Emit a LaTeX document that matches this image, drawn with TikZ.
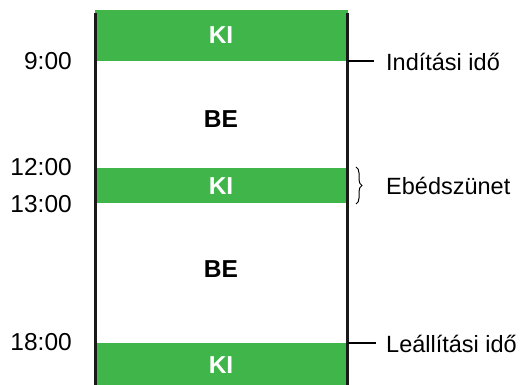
\documentclass[tikz,border=0pt]{standalone}
\usepackage{fontspec}
\setmainfont{Liberation Sans}
\definecolor{kigreen}{HTML}{40B54A}
\usetikzlibrary{decorations.pathreplacing}
\begin{document}
\begin{tikzpicture}[x=1pt,y=-1pt,
  band/.style={fill=kigreen,draw=none},
  bandtext/.style={text=white,font=\fontsize{24.5}{28}\selectfont\bfseries},
  betext/.style={text=black,font=\fontsize{24.5}{28}\selectfont\bfseries},
  timetext/.style={anchor=east,font=\fontsize{24.5}{28}\selectfont,inner sep=0pt},
  labeltext/.style={anchor=west,font=\fontsize{23.5}{28}\selectfont,inner sep=0pt},
  rail/.style={line width=3pt,black!90},
  tick/.style={line width=1.5pt,black}]
\useasboundingbox (0,0) rectangle (520,385);
\fill[white] (0,0) rectangle (520,385);
% bands
\path[band] (95,10) rectangle (348,61);
\path[band] (95,168) rectangle (348,203);
\path[band] (95,343) rectangle (348,385);
% rails
\coordinate (lt) at (95,13);
\coordinate (lb) at (95,385);
\coordinate (rt) at (347,13);
\coordinate (rb) at (347,385);
\draw[rail] (lt) -- (lb);
\draw[rail] (rt) -- (rb);
% band texts
\node[bandtext] (ki1) at (221,35) {KI};
\node[betext] (be1) at (221,119) {BE};
\node[bandtext] (ki2) at (221,186) {KI};
\node[betext] (be2) at (221,269) {BE};
\node[bandtext] (ki3) at (221,365) {KI};
% times
\node[timetext] (t9) at (72,61) {9:00};
\node[timetext] (t12) at (72,167) {12:00};
\node[timetext] (t13) at (72,204) {13:00};
\node[timetext] (t18) at (72,342) {18:00};
% right labels
\coordinate (s1) at (348,61);
\coordinate (e1) at (374,61);
\coordinate (s2) at (348,343);
\coordinate (e2) at (376,343);
\draw[tick] (s1) -- (e1);
\draw[tick] (s2) -- (e2);
\node[labeltext] (lab1) at (386,62) {Indítási idő};
\node[labeltext] (lab3) at (386,344) {Leállítási idő};
\coordinate (bt) at (356,167);
\coordinate (bb) at (356,204);
\draw[line width=1pt,decorate,decoration={brace,amplitude=6pt}] (bt) -- (bb);
\node[labeltext] (lab2) at (386,186) {Ebédszünet};
\end{tikzpicture}
\end{document}
